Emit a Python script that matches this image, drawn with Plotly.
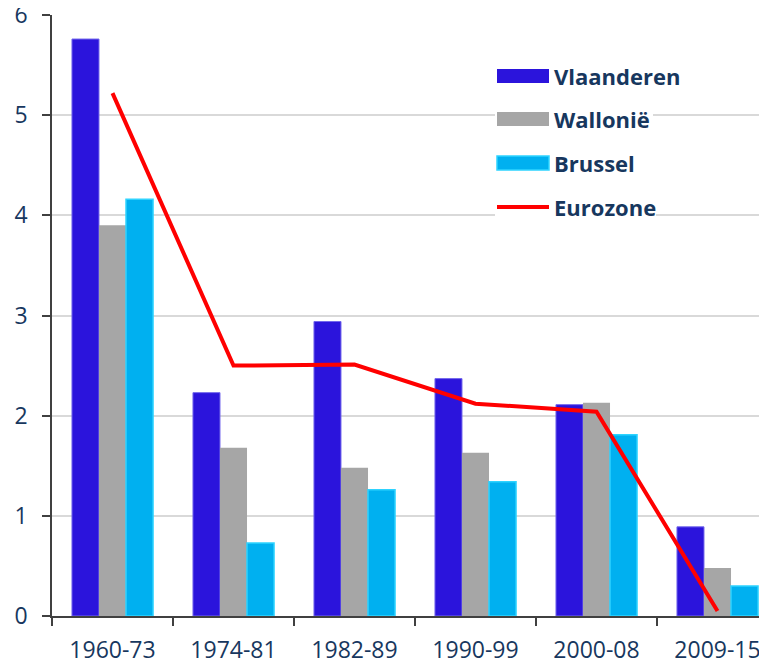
import plotly.graph_objects as go

categories = ["1960-73", "1974-81", "1982-89", "1990-99", "2000-08", "2009-15"]
vlaanderen = [5.76, 2.23, 2.94, 2.37, 2.11, 0.89]
wallonie = [3.90, 1.68, 1.48, 1.63, 2.13, 0.48]
brussel = [4.16, 0.73, 1.26, 1.34, 1.81, 0.30]
eurozone = [5.22, 2.50, 2.51, 2.12, 2.04, 0.05]
y_ticks = [0, 1, 2, 3, 4, 5, 6]

NAVY = "#17375E"
C_V = "#2B14DC"
C_W = "#A6A6A6"
C_B = "#00B0F0"
C_E = "#FF0000"

OFF = 8  # default page body margin
W, H = 767, 663
ML, MR, MT, MB = 52 - OFF, 0, 15 - OFF, H - (616 - OFF)
PW = W - ML - MR
PH = H - MT - MB
CAT_PX = 121.0

fig = go.Figure()
fig.add_trace(go.Bar(x=categories, y=vlaanderen, name="Vlaanderen",
                     marker=dict(color=C_V, line=dict(color="#7367EC", width=1))))
fig.add_trace(go.Bar(x=categories, y=wallonie, name="Wallonië",
                     marker=dict(color=C_W, line=dict(width=0))))
fig.add_trace(go.Bar(x=categories, y=brussel, name="Brussel",
                     marker=dict(color=C_B, line=dict(color="#2ED3FF", width=1.5))))
fig.add_trace(go.Scatter(x=categories, y=eurozone, name="Eurozone", mode="lines",
                         line=dict(color=C_E, width=4)))

def px(x):
    return (x - OFF - ML) / PW

def py(y):
    return (H - MB - (y - OFF)) / PH

shapes = []
annotations = []
legend_rows = [
    ("Vlaanderen", 76, "rect", C_V, None, 682),
    ("Wallonië", 119, "rect", C_W, None, 653),
    ("Brussel", 163, "rect", C_B, "#2ED3FF", 636),
    ("Eurozone", 207, "line", C_E, None, 656),
]
for name, yc, kind, col, edge, xend in legend_rows:
    shapes.append(dict(type="rect", xref="paper", yref="paper",
                       x0=px(495), x1=px(xend), y0=py(yc + 13), y1=py(yc - 13),
                       fillcolor="white", line=dict(width=0), layer="above"))
    if kind == "rect":
        shapes.append(dict(type="rect", xref="paper", yref="paper",
                           x0=px(497), x1=px(549), y0=py(yc + 7), y1=py(yc - 7),
                           fillcolor=col,
                           line=dict(width=1.5 if edge else 0, color=edge or col),
                           layer="above"))
    else:
        shapes.append(dict(type="line", xref="paper", yref="paper",
                           x0=px(497), x1=px(549), y0=py(yc), y1=py(yc),
                           line=dict(color=col, width=4), layer="above"))
    annotations.append(dict(text="<b>" + name + "</b>", xref="paper", yref="paper",
                            x=px(553), y=py(yc), xanchor="left", yanchor="middle",
                            showarrow=False, borderpad=0,
                            font=dict(family="Open Sans", size=22, color=NAVY)))

fig.update_layout(
    width=W, height=H,
    margin=dict(l=ML, r=MR, t=MT, b=MB, autoexpand=False),
    paper_bgcolor="white", plot_bgcolor="white",
    barmode="group", bargap=0.33, bargroupgap=0,
    showlegend=False,
    shapes=shapes, annotations=annotations,
    font=dict(family="Open Sans", color=NAVY),
)
fig.update_xaxes(
    type="category", automargin=False,
    range=[-0.5, -0.5 + PW / CAT_PX],
    showline=True, linecolor="#404040", linewidth=1.5,
    ticks="outside", tickson="boundaries", ticklen=8, tickcolor="#404040", tickwidth=1.5,
    tickfont=dict(family="Open Sans", size=23, color=NAVY),
    ticklabelstandoff=13, ticklabeloverflow="allow",
    showgrid=False, zeroline=False,
)
fig.update_yaxes(
    automargin=False,
    range=[0, 6], tickvals=y_ticks, ticktext=[str(v) for v in y_ticks],
    showline=True, linecolor="#404040", linewidth=1.5,
    ticks="outside", ticklen=8, tickcolor="#404040", tickwidth=1.5,
    tickfont=dict(family="Open Sans", size=23, color=NAVY),
    ticklabelstandoff=10, ticklabeloverflow="allow",
    showgrid=True, gridcolor="#D9D9D9", gridwidth=1.5,
    zeroline=False,
)

fig.write_html("out.html")
